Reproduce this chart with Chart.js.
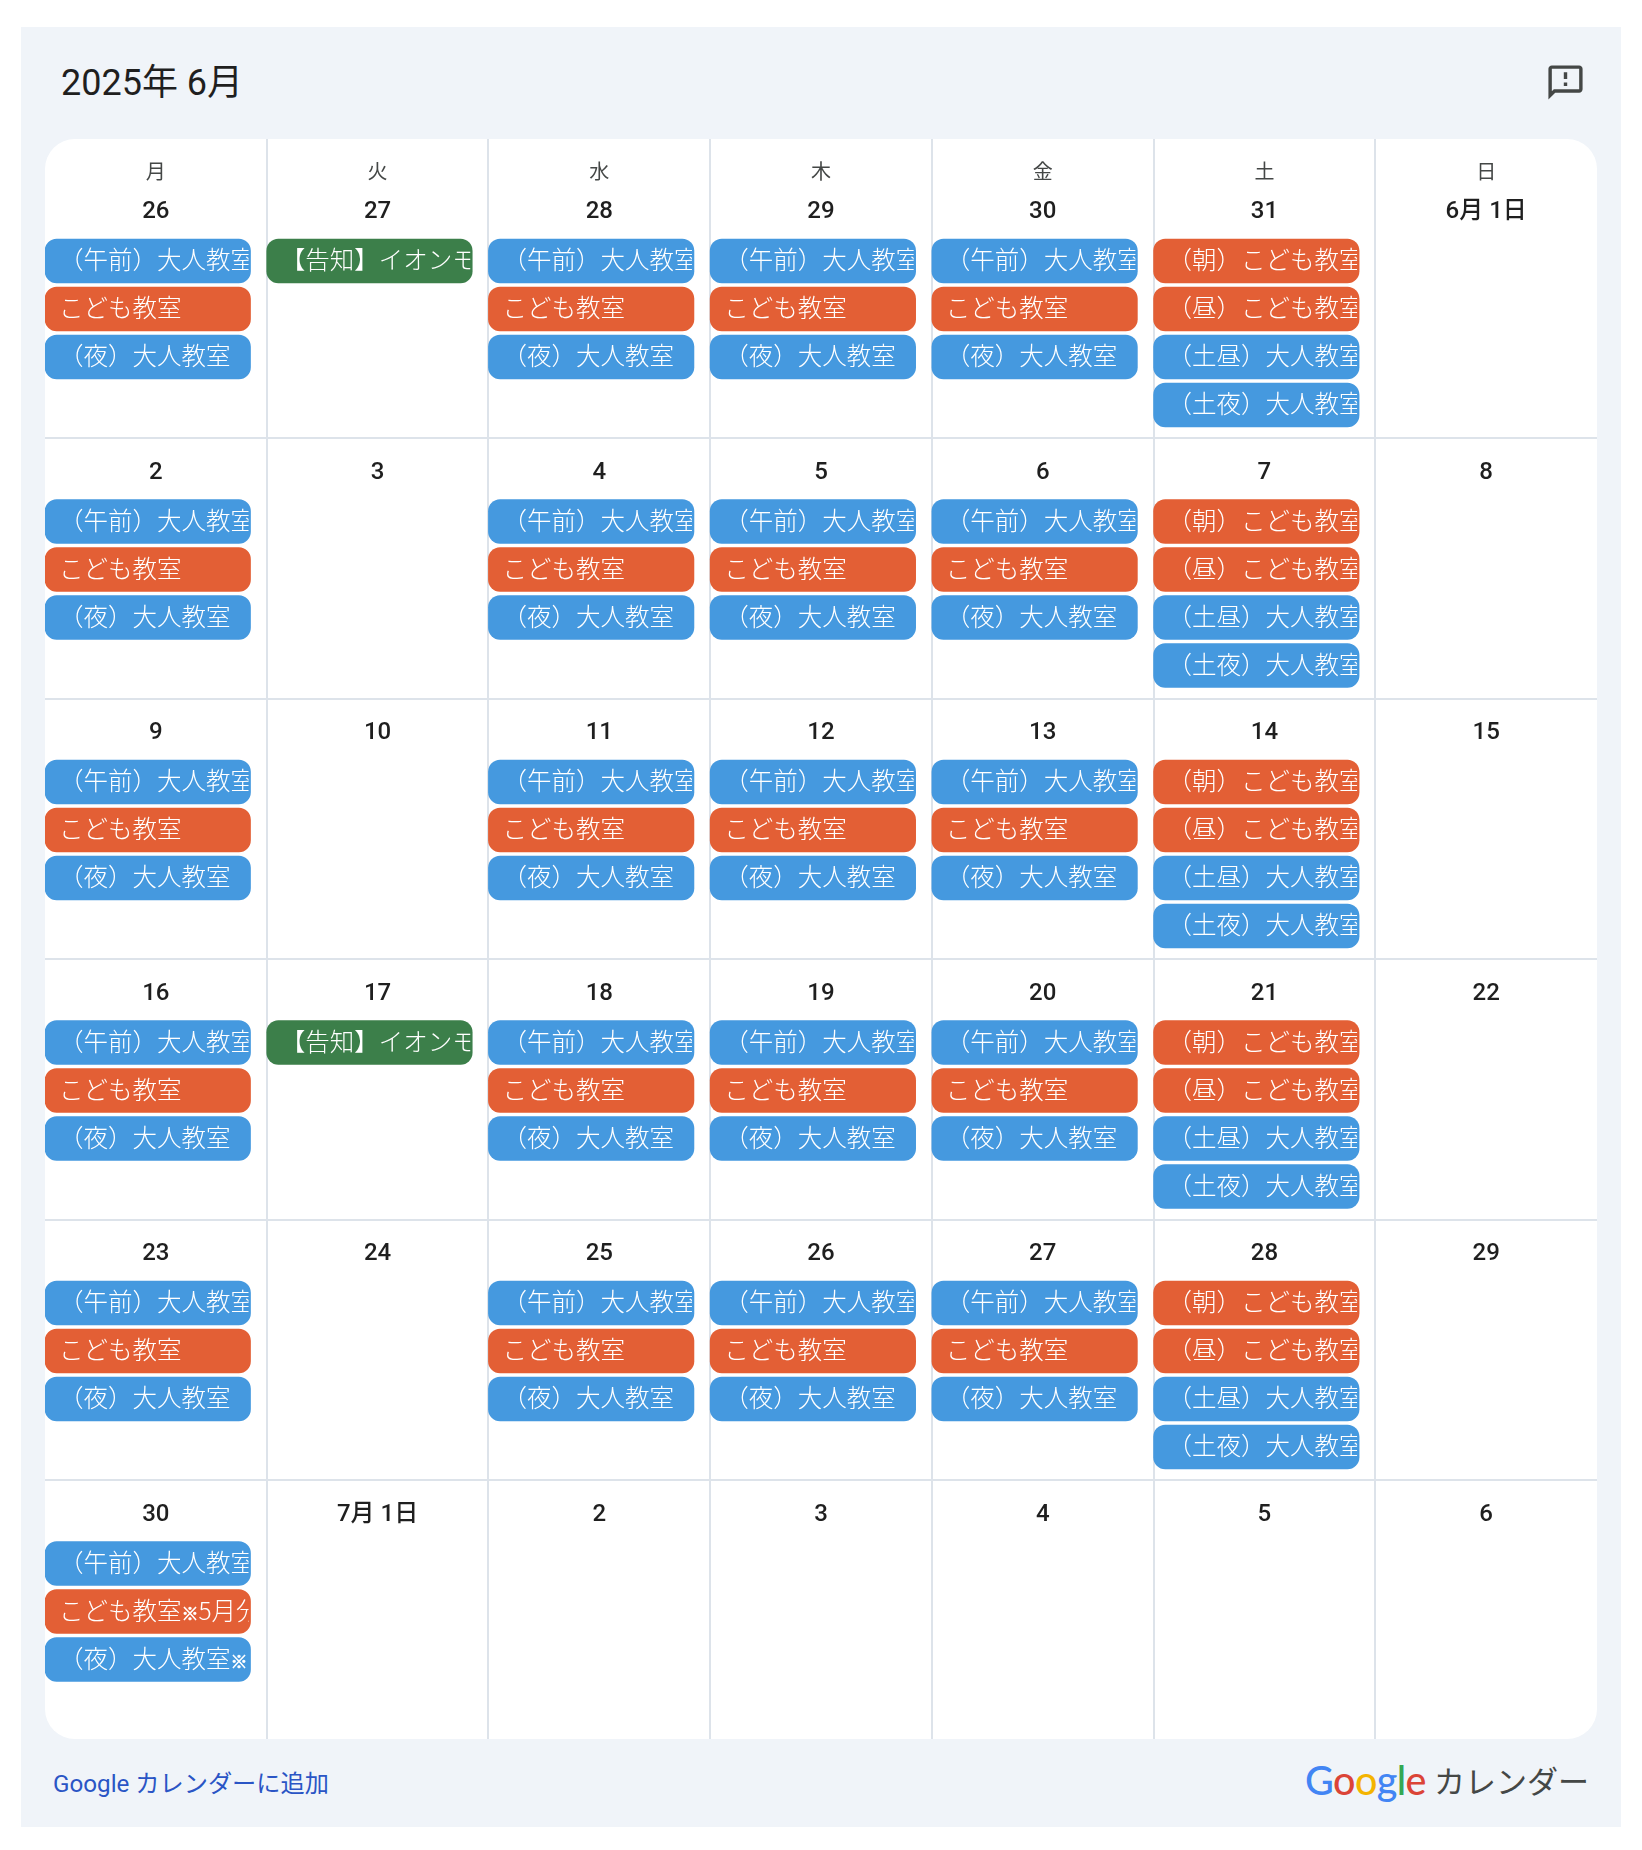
<!DOCTYPE html>
<html lang="ja">
<head>
<meta charset="utf-8">
<title>2025年 6月</title>
<script src="https://cdn.jsdelivr.net/npm/chart.js@4"></script>
<style>
  html, body { margin: 0; background: #fff; }
  body { width: 1642px; height: 1850px; position: relative; overflow: hidden; font-family: Roboto, "Noto Sans CJK JP", sans-serif; }
  .card { position: absolute; left: 21px; top: 27px; width: 1600px; height: 1800px; background: #f0f4f9; }
  .title { position: absolute; left: 61px; top: 60px; font-size: 36px; line-height: 46px; color: #1f1f1f; white-space: nowrap; }
  .panel { position: absolute; left: 45px; top: 139px; width: 1552px; height: 1600px; background: #fff; border-radius: 30px; overflow: hidden; }
  .icon { position: absolute; left: 1545px; top: 62px; width: 41px; height: 41px; fill: #444746; }
  .link { position: absolute; left: 53px; top: 1767px; font-size: 24.2px; line-height: 34px; color: #2a55c5; white-space: nowrap; }
  .logo { position: absolute; left: 1305px; top: 1754px; font-size: 39.5px; line-height: 52px; font-weight: 500; font-family: Lato, Roboto, sans-serif; letter-spacing: -0.6px; white-space: nowrap; }
  .brand { position: absolute; left: 1434px; top: 1763px; font-size: 31px; line-height: 40px; color: #444746; white-space: nowrap; }
</style>
</head>
<body>
<div class="card"></div>
<div class="title">2025年 6月</div>
<svg class="icon" viewBox="0 0 24 24"><path d="M20 2H4c-1.1 0-2 .9-2 2v18l4-4h14c1.1 0 2-.9 2-2V4c0-1.1-.9-2-2-2zm0 14H5.17L4 17.17V4h16v12zM11 12h2v2h-2zM11 6h2v4h-2z"/></svg>
<div class="panel"><canvas id="calendar" width="1552" height="1600"></canvas></div>
<div class="link">Google カレンダーに追加</div>
<div class="logo"><span style="color:#4285f4">G</span><span style="color:#db4437">o</span><span style="color:#f4b400">o</span><span style="color:#4285f4">g</span><span style="color:#34a853">l</span><span style="color:#db4437">e</span></div>
<div class="brand">カレンダー</div>
<script>
const weekdays = ['月', '火', '水', '木', '金', '土', '日'];

const dateLabels = [
  ['26', '27', '28', '29', '30', '31', '6月 1日'],
  ['2', '3', '4', '5', '6', '7', '8'],
  ['9', '10', '11', '12', '13', '14', '15'],
  ['16', '17', '18', '19', '20', '21', '22'],
  ['23', '24', '25', '26', '27', '28', '29'],
  ['30', '7月 1日', '2', '3', '4', '5', '6']
];

const AM = '（午前）大人教室';
const KIDS = 'こども教室';
const PM = '（夜）大人教室';
const SAT = ['（朝）こども教室', '（昼）こども教室', '（土昼）大人教室', '（土夜）大人教室'];
const NOTICE = '【告知】イオンモール';
const DAY = [AM, KIDS, PM];

const weekEvents = [
  [DAY, [NOTICE], DAY, DAY, DAY, SAT, []],
  [DAY, [], DAY, DAY, DAY, SAT, []],
  [DAY, [], DAY, DAY, DAY, SAT, []],
  [DAY, [NOTICE], DAY, DAY, DAY, SAT, []],
  [DAY, [], DAY, DAY, DAY, SAT, []],
  [[AM, 'こども教室※5月分', '（夜）大人教室※'], [], [], [], [], [], []]
];

// layout of the grid, in panel pixels
const GRID_H = 1600, ROW0 = 38.5, ROW_H = 260.5;
const SLOT_TOP = 61.5, SLOT_H = 44, SLOT_GAP = 4;
const BAR_W = 205.5 / 221.7;

const rowTop = r => ROW0 + ROW_H * r;

function colorKey(label) {
  if (label.startsWith('【')) return 'notice';
  return label.includes('こども') ? 'kids' : 'adult';
}

const barData = { adult: [], kids: [], notice: [] };
weekEvents.forEach((week, r) => week.forEach((list, c) => list.forEach((label, s) => {
  barData[colorKey(label)].push({
    x: [c, c + BAR_W],
    y: rowTop(r) + SLOT_TOP + SLOT_H / 2 + (SLOT_H + SLOT_GAP) * s,
    label
  });
})));

const TITLE_FONT = '300 24.5px "Noto Sans CJK JP"';
const MARK_FONT = '700 17px "Noto Sans CJK JP"';

// the ※ is much smaller and heavier than the rest of the title in the original
function drawTitle(ctx, label, x, y) {
  label.split('※').forEach((part, i) => {
    if (i > 0) {
      ctx.font = MARK_FONT;
      ctx.fillText('※', x, y + 3);
      ctx.strokeStyle = '#fff';
      ctx.lineWidth = 0.6;
      ctx.strokeText('※', x, y + 3);
      x += 17;
    }
    ctx.font = TITLE_FONT;
    ctx.fillText(part, x, y);
    x += ctx.measureText(part).width;
  });
}

const gridText = {
  id: 'gridText',
  afterDatasetsDraw(chart) {
    const { ctx, scales: { x, y } } = chart;
    ctx.save();
    ctx.textAlign = 'center';
    ctx.textBaseline = 'middle';
    ctx.fillStyle = '#444746';
    ctx.font = '20px "Noto Sans CJK JP"';
    weekdays.forEach((d, c) => ctx.fillText(d, x.getPixelForValue(c + 0.5), y.getPixelForValue(32)));
    ctx.fillStyle = '#1f1f1f';
    ctx.font = '500 24px Roboto, "Noto Sans CJK JP"';
    dateLabels.forEach((row, r) => row.forEach((d, c) => {
      ctx.fillText(d, x.getPixelForValue(c + 0.5), y.getPixelForValue(rowTop(r) + 34.5));
    }));

    // event titles, cut off at the right end of the pill
    ctx.textAlign = 'left';
    ctx.fillStyle = '#fff';
    chart.data.datasets.forEach((ds, i) => {
      chart.getDatasetMeta(i).data.forEach((bar, j) => {
        const p = bar.getProps(['x', 'y', 'base', 'height'], true);
        ctx.save();
        ctx.beginPath();
        ctx.rect(p.base, p.y - p.height / 2, p.x - p.base - 2, p.height);
        ctx.clip();
        drawTitle(ctx, ds.data[j].label, p.base + 14, p.y - 1);
        ctx.restore();
      });
    });
    ctx.restore();
  }
};

const bar = (key, color) => ({
  label: key,
  data: barData[key],
  backgroundColor: color,
  barThickness: SLOT_H,
  borderRadius: 12,
  borderSkipped: false,
  grouped: false
});

new Chart(document.getElementById('calendar'), {
  type: 'bar',
  data: {
    datasets: [bar('adult', '#4599df'), bar('kids', '#e35f35'), bar('notice', '#3c7f4a')]
  },
  options: {
    indexAxis: 'y',
    responsive: false,
    animation: false,
    devicePixelRatio: 1,
    layout: { padding: 0 },
    plugins: { legend: { display: false }, tooltip: { enabled: false } },
    scales: {
      x: {
        type: 'linear', min: 0, max: 7,
        afterBuildTicks: s => { s.ticks = [1, 2, 3, 4, 5, 6].map(value => ({ value })); },
        ticks: { display: false },
        border: { display: false },
        grid: { color: '#dde3ea', lineWidth: 2, drawTicks: false }
      },
      y: {
        type: 'linear', min: 0, max: GRID_H, reverse: true, offset: false,
        afterBuildTicks: s => { s.ticks = [1, 2, 3, 4, 5].map(r => ({ value: rowTop(r) })); },
        ticks: { display: false },
        border: { display: false },
        grid: { color: '#dde3ea', lineWidth: 2, drawTicks: false, offset: false }
      }
    }
  },
  plugins: [gridText]
});
</script>
</body>
</html>
